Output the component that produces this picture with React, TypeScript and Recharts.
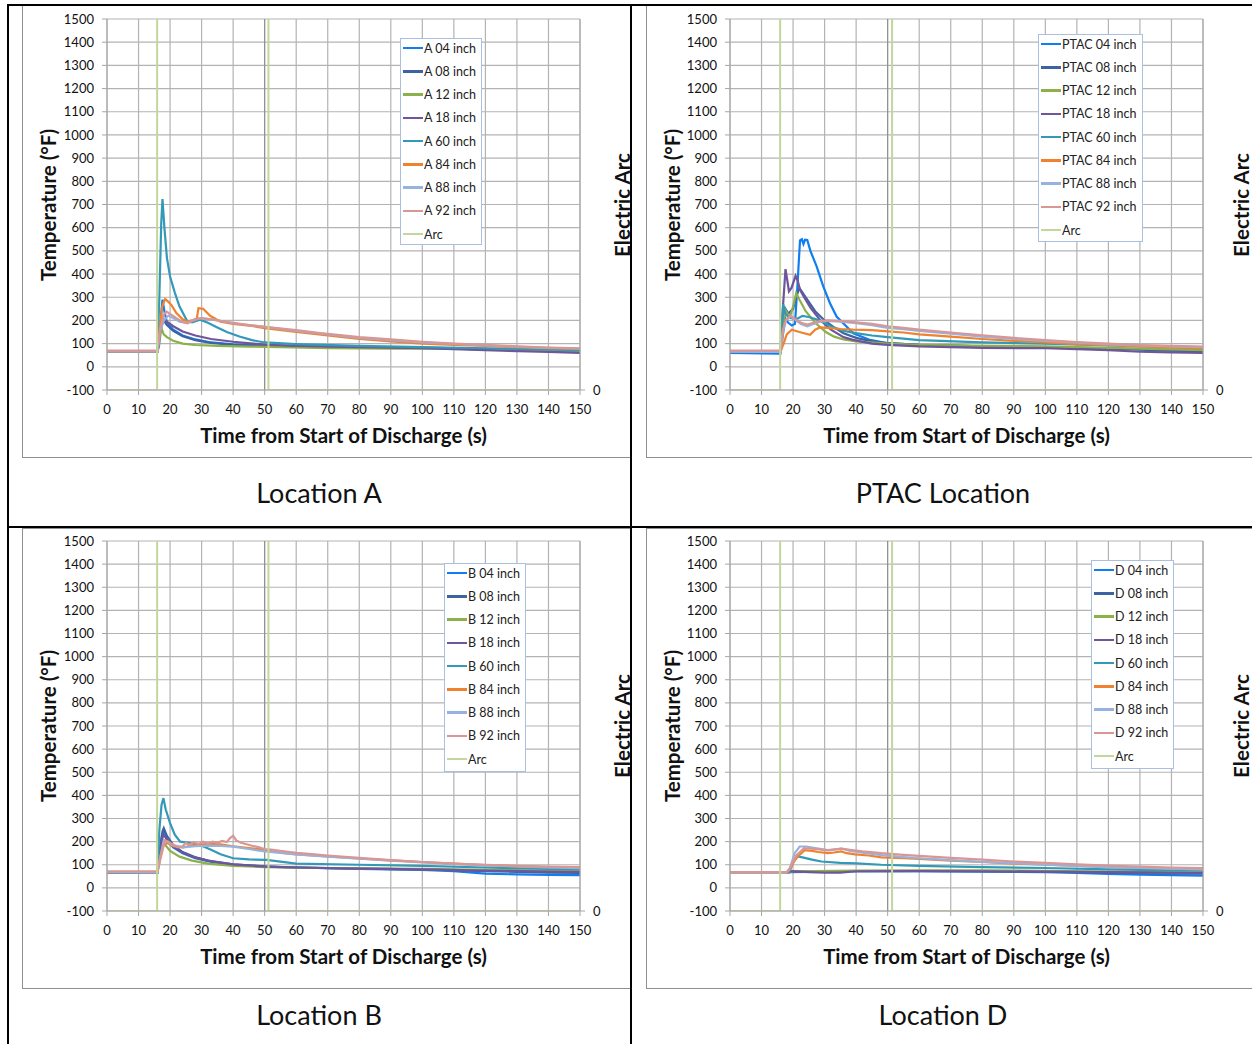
import React from 'react';
import { LineChart, Line, XAxis, YAxis, CartesianGrid, ReferenceLine, Legend } from 'recharts';

type P = [number, number][];

// ---------- Location A ----------
const A04: P = [[0,67],[16,66],[16.5,90],[17.2,230],[17.6,290],[18.2,240],[19,190],[21,160],[24,135],[28,118],[33,105],[40,97],[50,92],[60,90],[80,85],[100,83],[120,78],[140,70],[150,68]];
const A08: P = [[0,67],[16,66],[16.6,120],[17.4,215],[18,200],[19,180],[21,155],[24,132],[28,115],[33,103],[40,95],[50,90],[60,88],[80,85],[100,82],[120,75],[140,68],[150,65]];
const A12: P = [[0,67],[16,66],[16.6,110],[17.3,165],[18,140],[19,128],[21,112],[24,100],[28,94],[35,90],[45,87],[55,85],[70,80],[90,78],[110,78],[130,72],[150,68]];
const A18: P = [[0,67],[16,66],[16.8,150],[18,205],[19,195],[21,175],[24,152],[28,135],[33,120],[40,108],[50,96],[60,90],[80,85],[100,80],[120,72],[140,64],[150,60]];
const A60: P = [[0,67],[16,66],[16.6,300],[17.2,620],[17.6,723],[18.2,600],[19,470],[20,389],[21.5,320],[23,260],[25.5,195],[27,192],[29.5,203],[32,190],[35,170],[38,150],[42,131],[46,115],[50,105],[60,98],[80,90],[100,85],[120,80],[140,75],[150,72]];
const A84: P = [[0,67],[16,66],[16.7,160],[17.5,260],[18.4,292],[19.5,280],[20.5,265],[22,232],[24,205],[25.5,195],[27,200],[28.5,210],[29,253],[30.5,250],[32.7,220],[36,195],[40,185],[45,178],[50,167],[60,150],[70,135],[80,120],[90,110],[100,100],[110,95],[120,90],[130,85],[140,80],[150,78]];
const A88: P = [[0,67],[16,66],[16.8,150],[18,200],[19.5,221],[21,210],[23,195],[25.5,190],[28,205],[30,210],[35,200],[40,188],[50,172],[60,155],[70,140],[80,125],[100,105],[120,92],[140,82],[150,78]];
const A92: P = [[0,70],[16,70],[16.8,160],[18,225],[18.9,238],[20,228],[22,210],[24,193],[25.5,188],[27,198],[29.5,210],[33,205],[36,198],[40,190],[45,180],[50,172],[60,158],[67.6,145],[80,128],[90,118],[100,108],[110,100],[120,95],[130,88],[140,83],[150,80]];
const A_ARC: P = [[0,0],[15.9,0],[15.9,10],[51.2,10],[51.2,0],[150,0]];

// ---------- PTAC Location ----------
const P04: P = [[0,60],[16,57],[16.6,120],[17.5,210],[18.5,190],[19.6,178],[20.6,185],[21.3,330],[22.2,545],[22.8,550],[23.3,530],[23.8,548],[24.5,547],[25.5,500],[27.5,432],[29.6,346],[31.7,274],[33.8,217],[35.9,188],[39.1,145],[44.4,116],[49.7,102],[60,95],[80,88],[100,85],[120,80],[140,72],[150,70]];
const P08: P = [[0,65],[16,64],[16.8,180],[17.6,250],[18.5,230],[20,250],[21,300],[22,340],[23,320],[24.5,290],[27,240],[30,200],[33,170],[36,145],[40,125],[45,110],[50,102],[60,95],[80,88],[100,85],[120,78],[140,70],[150,65]];
const P12: P = [[0,65],[16,64],[16.6,150],[17.4,250],[18.2,230],[19,215],[20,260],[21,317],[22,290],[24,240],[27,190],[30.4,150],[33,130],[36,118],[40,110],[50,100],[60,95],[80,90],[100,88],[120,82],[140,75],[150,72]];
const P18: P = [[0,65],[16,64],[16.8,260],[17.6,421],[18.2,370],[18.7,325],[19.5,340],[20.8,392],[21.5,370],[22.2,332],[23.5,300],[25.5,255],[28.5,203],[32,160],[36,128],[39,116],[45,100],[50,95],[60,88],[80,82],[100,80],[120,72],[130,65],[140,62],[150,60]];
const P60: P = [[0,65],[16,64],[16.5,200],[16.9,270],[17.5,230],[18.5,215],[19.7,210],[21,205],[23,220],[25,215],[28.5,200],[32,175],[36,155],[40,145],[45,135],[50,128],[60,115],[80,105],[100,100],[120,92],[140,85],[150,80]];
const P84: P = [[0,65],[16,64],[17,100],[18,140],[19.6,160],[22,150],[25.4,138],[27,160],[28.5,170],[31,168],[35,163],[39,160],[45,158],[50,153],[55,148],[60,140],[70,130],[80,120],[90,112],[100,105],[110,98],[120,93],[130,88],[140,84],[150,80]];
const P88: P = [[0,65],[16,64],[16.8,150],[17.8,200],[19.2,218],[20.5,205],[22.5,185],[24.5,175],[26.5,185],[28.5,195],[31,198],[35,195],[40,188],[45,180],[50,168],[55,162],[60,155],[70,143],[80,130],[90,120],[100,112],[110,104],[120,97],[130,92],[140,88],[150,85]];
const P92: P = [[0,70],[16,70],[16.8,160],[17.8,205],[19.2,220],[20.5,208],[22.5,190],[24.5,182],[26.5,190],[29,198],[31,200],[35,198],[40,192],[45,185],[50,175],[55,168],[60,160],[70,148],[80,136],[90,125],[100,115],[110,107],[120,100],[130,94],[140,90],[150,87]];
const P_ARC: P = [[0,0],[15.9,0],[15.9,10],[51.4,10],[51.4,0],[150,0]];

// ---------- Location B ----------
const B04: P = [[0,67],[16,66],[16.7,150],[17.5,230],[18,240],[19,205],[21,175],[24,150],[28,128],[33,112],[40,100],[50,92],[60,88],[80,82],[100,78],[110,72],[120,62],[130,58],[140,56],[150,55]];
const B08: P = [[0,67],[16,66],[16.7,160],[17.6,245],[18,258],[19,225],[21,185],[24,155],[28,132],[33,115],[40,102],[50,93],[60,88],[80,83],[100,80],[120,72],[140,66],[150,65]];
const B12: P = [[0,68],[16,67],[16.7,140],[17.6,190],[18.5,185],[20,160],[23,135],[27,118],[32,105],[40,95],[50,90],[60,87],[80,84],[100,82],[120,78],[140,75],[150,74]];
const B18: P = [[0,67],[16,66],[16.8,160],[17.8,230],[18.5,220],[20,190],[23,160],[27,135],[32,118],[40,102],[50,92],[60,88],[80,83],[100,80],[120,75],[140,70],[150,68]];
const B60: P = [[0,68],[16,67],[16.6,250],[17.3,360],[17.9,388],[18.6,340],[20,280],[21.5,230],[23.2,200],[26,195],[29.5,185],[33,165],[36,145],[40,128],[45,123],[50.6,121],[60,105],[80,100],[100,95],[120,88],[140,82],[150,80]];
const B84: P = [[0,68],[16,67],[17,130],[18,185],[19,195],[21,180],[24,175],[28,185],[32,190],[36,188],[40,180],[45,172],[50,164],[55,152],[60,145],[70,136],[80,127],[90,119],[100,112],[110,105],[120,98],[130,94],[140,90],[150,88]];
const B88: P = [[0,68],[16,67],[17,140],[18,205],[19,200],[21,185],[24,175],[28,180],[32,183],[36,182],[40,178],[45,168],[50,158],[60,145],[70,135],[80,126],[90,118],[100,110],[120,97],[140,88],[150,85]];
const B92: P = [[0,72],[16,72],[17,140],[18.4,205],[19.5,200],[21,185],[22.5,175],[24,180],[25,195],[26,185],[27.5,198],[29,190],[30.5,200],[32,192],[33.5,200],[35,195],[36.5,203],[38,198],[39,215],[40,225],[41,205],[42.5,195],[44,190],[46,182],[48,176],[50,168],[52,166],[55,160],[60,152],[65,146],[70,140],[80,130],[90,120],[100,112],[110,105],[120,100],[130,95],[140,92],[150,90]];
const B_ARC: P = [[0,0],[15.9,0],[15.9,10],[51.2,10],[51.2,0],[150,0]];

// ---------- Location D ----------
const D04: P = [[0,66],[18,66],[19,68],[30,70],[40,72],[60,72],[80,70],[100,68],[110,65],[120,60],[130,57],[140,55],[150,53]];
const D08: P = [[0,66],[18,66],[20,70],[40,72],[60,72],[80,72],[100,70],[120,66],[140,63],[150,62]];
const D12: P = [[0,66],[18,66],[20,72],[40,75],[60,76],[80,76],[100,74],[120,70],[140,67],[150,66]];
const D18: P = [[0,66],[18,66],[19,72],[25,68],[30,66],[35,66],[40,72],[60,73],[80,72],[100,70],[120,68],[140,66],[150,65]];
const D60: P = [[0,66],[18,66],[19,75],[20,110],[21.5,136],[23,132],[26,122],[29,114],[35,108],[40,106],[48,100],[60,95],[80,90],[100,86],[120,80],[140,76],[150,75]];
const D84: P = [[0,66],[18,66],[19,80],[21,130],[23.7,163],[26,160],[28,155],[31,150],[33,153],[35.3,158],[37,150],[39.6,145],[44,140],[48,132],[55,128],[60,125],[70,118],[80,112],[90,105],[100,100],[110,95],[120,90],[130,86],[140,83],[150,80]];
const D88: P = [[0,66],[18,66],[19,85],[20.5,150],[22.1,179],[24.2,179],[27,172],[31,163],[33,166],[35.3,170],[38,160],[42,152],[48,142],[55,133],[60,128],[70,120],[80,112],[89.9,107],[100,100],[110,95],[120,90],[130,86],[140,83],[150,80]];
const D92: P = [[0,68],[18,68],[19,85],[21,140],[23.5,172],[27,168],[31,162],[35.3,170],[38,165],[42,158],[48,150],[55,143],[60,138],[70,130],[80,122],[90,114],[100,108],[110,102],[120,96],[130,92],[140,88],[150,85]];
const D_ARC: P = [[0,0],[15.9,0],[15.9,10],[51.4,10],[51.4,0],[150,0]];

const DEPTHS = ['04', '08', '12', '18', '60', '84', '88', '92'];
const COLORS = ['#0f7ef0', '#3d64a0', '#8cb04a', '#6f559b', '#3399b8', '#f0822f', '#95b3de', '#d99694'];
const ARC_COLOR = '#c3d69b';
const X_TICKS = [0, 10, 20, 30, 40, 50, 60, 70, 80, 90, 100, 110, 120, 130, 140, 150];
const Y_TICKS = [-100, 0, 100, 200, 300, 400, 500, 600, 700, 800, 900, 1000, 1100, 1200, 1300, 1400, 1500];
const ARC_TICKS = [0];

const FONT = 'Lato, "Noto Sans", sans-serif';
const GRID = '#b3b3b3';

const toData = (p: P) => p.map(([t, v]) => ({ t, v }));

type PanelProps = {
  prefix: string;
  series: P[];
  arc: P;
  left: number;
  top: number;
  width: number;
  height: number;
  mTop: number;
  yW: number;
  rW: number;
  xH: number;
  legend: { left: number; top: number; width: number; height: number };
  caption: string;
  captionY: number;
  arcTitleDx: number;
};

const titleStyle = (left: number, top: number, size: number, rotate: boolean, bold = true): React.CSSProperties => ({
  position: 'absolute',
  left: left - 200,
  top: top - 15,
  width: 400,
  height: 30,
  lineHeight: '30px',
  textAlign: 'center',
  fontFamily: FONT,
  fontWeight: bold ? 700 : 400,
  fontSize: size,
  color: '#111',
  whiteSpace: 'nowrap',
  transform: rotate ? 'rotate(-90deg)' : undefined,
});

function Panel(p: PanelProps) {
  const plotLeft = p.left + p.yW;
  const plotRight = p.left + p.width - p.rW;
  const plotTop = p.top + p.mTop;
  const plotBottom = p.top + p.height - p.xH;
  const midX = (plotLeft + plotRight) / 2;
  const midY = (plotTop + plotBottom) / 2;
  const entries = DEPTHS.map((d, i) => ({ name: `${p.prefix} ${d} inch`, color: COLORS[i] }));
  entries.push({ name: 'Arc', color: ARC_COLOR });
  const legendContent = () => (
    <div
      style={{
        position: 'relative',
        width: p.legend.width,
        height: p.legend.height,
        border: '1px solid #a9c0e0',
        background: '#fff',
        boxSizing: 'border-box',
      }}
    >
      {entries.map((e, i) => (
        <div
          key={e.name}
          style={{
            position: 'absolute',
            left: 0,
            top: 9 + i * 23.25 - 8,
            height: 16,
            display: 'flex',
            alignItems: 'center',
            fontFamily: FONT,
            fontSize: 12.5,
            color: '#222',
          }}
        >
          <span style={{ display: 'inline-block', width: 20, height: 2.5, background: e.color, marginLeft: 2, marginRight: 1 }} />
          <span style={{ whiteSpace: 'nowrap' }}>{e.name}</span>
        </div>
      ))}
    </div>
  );
  return (
    <>
      <div style={{ position: 'absolute', left: p.left, top: p.top, width: p.width, height: p.height, border: '1px solid #8f8f8f', boxSizing: 'border-box' }} />
      <div style={{ position: 'absolute', left: p.left, top: p.top, width: p.width, height: p.height }}>
        <LineChart width={p.width} height={p.height} margin={{ top: p.mTop, right: 0, bottom: 0, left: 0 }}>
          <CartesianGrid stroke={GRID} strokeWidth={1.2} />
          <XAxis
            type="number"
            dataKey="t"
            domain={[0, 150]}
            ticks={X_TICKS}
            interval={0}
            height={p.xH}
            tickSize={5}
            tickMargin={10}
            stroke="#a6a6a6"
            tick={{ fill: '#111', fontSize: 13, fontFamily: FONT }}
            allowDataOverflow
          />
          <YAxis
            type="number"
            domain={[-100, 1500]}
            ticks={Y_TICKS}
            interval={0}
            width={p.yW}
            tickSize={5}
            tickMargin={8}
            stroke="#a6a6a6"
            tick={{ fill: '#111', fontSize: 13, fontFamily: FONT }}
            allowDataOverflow
          />
          <YAxis
            yAxisId="arc"
            orientation="right"
            type="number"
            domain={[0, 1]}
            ticks={ARC_TICKS}
            width={p.rW}
            tickSize={5}
            tickMargin={8}
            stroke="#a6a6a6"
            tick={{ fill: '#111', fontSize: 13, fontFamily: FONT }}
            allowDataOverflow
          />
          <ReferenceLine x={50} stroke="#8a8a8a" strokeWidth={1} />
          {p.series.map((s, i) => (
            <Line
              key={DEPTHS[i]}
              data={toData(s)}
              dataKey="v"
              type="linear"
              stroke={COLORS[i]}
              strokeWidth={2.2}
              dot={false}
              activeDot={false}
              isAnimationActive={false}
              name={`${p.prefix} ${DEPTHS[i]} inch`}
            />
          ))}
          <Line
            yAxisId="arc"
            data={toData(p.arc)}
            dataKey="v"
            type="linear"
            stroke={ARC_COLOR}
            strokeWidth={2}
            dot={false}
            activeDot={false}
            isAnimationActive={false}
            name="Arc"
          />
          <Legend
            layout="vertical"
            align="center"
            verticalAlign="middle"
            content={legendContent}
            wrapperStyle={{ left: p.legend.left, top: p.legend.top, width: p.legend.width, height: p.legend.height }}
          />
        </LineChart>
      </div>
      <div style={titleStyle(midX, plotBottom + 45, 20.5, false)}>Time from Start of Discharge (s)</div>
      <div style={titleStyle(p.left + 26, midY, 20.5, true)}>Temperature (°F)</div>
      <div style={titleStyle(plotRight + p.arcTitleDx, midY, 20.5, true)}>Electric Arc</div>
      <div style={titleStyle(p.left + 297, p.captionY, 27, false, false)}>{p.caption}</div>
    </>
  );
}

export default function App() {
  return (
    <div style={{ position: 'absolute', left: 0, top: 0, width: 1252, height: 1044, overflow: 'hidden', background: '#fff' }}>
      <Panel prefix="A" series={[A04, A08, A12, A18, A60, A84, A88, A92]} arc={A_ARC}
        left={22} top={5} width={609} height={453} mTop={14} yW={85} rW={51} xH={68}
        legend={{ left: 378, top: 33, width: 82, height: 207 }} caption="Location A" captionY={493} arcTitleDx={42} />
      <Panel prefix="PTAC" series={[P04, P08, P12, P18, P60, P84, P88, P92]} arc={P_ARC}
        left={646} top={5} width={609} height={453} mTop={14} yW={84} rW={52} xH={68}
        legend={{ left: 392, top: 29, width: 105, height: 208 }} caption="PTAC Location" captionY={493} arcTitleDx={38} />
      <Panel prefix="B" series={[B04, B08, B12, B18, B60, B84, B88, B92]} arc={B_ARC}
        left={22} top={528} width={609} height={461} mTop={13} yW={85} rW={51} xH={78}
        legend={{ left: 422, top: 35, width: 82, height: 209 }} caption="Location B" captionY={1015} arcTitleDx={42} />
      <Panel prefix="D" series={[D04, D08, D12, D18, D60, D84, D88, D92]} arc={D_ARC}
        left={646} top={528} width={609} height={461} mTop={13} yW={84} rW={52} xH={78}
        legend={{ left: 445, top: 32, width: 83, height: 209 }} caption="Location D" captionY={1015} arcTitleDx={38} />
      {/* table borders */}
      <div style={{ position: 'absolute', left: 7, top: 4, width: 1245, height: 2, background: '#000' }} />
      <div style={{ position: 'absolute', left: 7, top: 4, width: 2, height: 1040, background: '#000' }} />
      <div style={{ position: 'absolute', left: 630, top: 4, width: 2, height: 1040, background: '#000' }} />
      <div style={{ position: 'absolute', left: 7, top: 526, width: 1245, height: 2, background: '#000' }} />
    </div>
  );
}
